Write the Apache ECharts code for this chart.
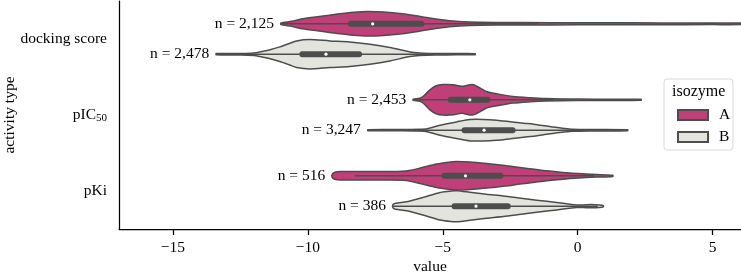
<!DOCTYPE html>
<html>
<head>
<meta charset="utf-8">
<script src="https://cdn.jsdelivr.net/npm/echarts@6/dist/echarts.min.js"></script>
<style>
  html, body { margin: 0; padding: 0; background: #fff; }
  #chart { width: 741px; height: 273px; }
</style>
</head>
<body>
<div id="chart"></div>
<script>
// 数据
var categories = ['docking score', 'pIC50', 'pKi'];
var isozymes = ['A', 'B'];
var xTicks = [-15, -10, -5, 0, 5];
var countsA = [2125, 2453, 516];
var countsB = [2478, 3247, 386];
// [whisker low, q1, median, q3, whisker high]
var boxA = [
  [-11.0, -8.5, -7.6, -5.7, -1.5],
  [-6.1, -4.8, -4.0, -3.25, -0.9],
  [-8.25, -5.03, -4.16, -2.77, 0.6]
];
var boxB = [
  [-13.4, -10.3, -9.33, -8.01, -4.6],
  [-7.2, -4.29, -3.47, -2.32, 0.6],
  [-6.85, -4.66, -3.77, -2.5, 0.74]
];
// violin outline: [value, relative density]
var profileA = [
  [[-11.0, 0.8], [-10.6, 2.5], [-10.2, 5], [-9.5, 7.5], [-8.9, 9.7], [-8.3, 11.5], [-7.8, 12.3], [-7.2, 11.8], [-6.5, 10], [-6.0, 8], [-5.5, 5.7], [-4.75, 3], [-4.0, 1.7], [-3.0, 1.3], [-1.0, 1.1], [1.0, 1.0], [3.0, 0.9], [5.0, 0.8], [6.1, 0.7]],
  [[-6.1, 0.6], [-5.85, 1.5], [-5.7, 4], [-5.5, 9.5], [-5.25, 14], [-5.0, 15.3], [-4.6, 15], [-4.3, 13.5], [-3.9, 15.3], [-3.6, 11.5], [-3.36, 8], [-3.0, 6], [-2.4, 3.3], [-1.77, 2], [-1.2, 1.2], [0.0, 0.7], [1.2, 0.6], [2.35, 0.5]],
  [[-9.1, 1.5], [-9.0, 3.5], [-8.8, 4.2], [-8.0, 4.3], [-7.0, 4.3], [-6.5, 4.5], [-6.2, 5.5], [-5.8, 8], [-5.23, 11.7], [-4.8, 13.5], [-4.49, 14.3], [-4.0, 13.8], [-3.38, 12.3], [-2.7, 10.3], [-2.14, 8.3], [-1.6, 6.5], [-1.15, 5], [-0.29, 2.7], [0.3, 1.8], [0.7, 1.3], [1.3, 0.6]]
];
var profileB = [
  [[-13.4, 0.6], [-12.5, 0.8], [-12.0, 1.3], [-11.78, 2.3], [-11.4, 4.5], [-11.04, 7.3], [-10.7, 10.5], [-10.42, 13.3], [-9.93, 14.7], [-9.19, 13.3], [-8.45, 12.3], [-7.7, 10], [-6.96, 6.7], [-6.22, 2.3], [-5.85, 1.3], [-5.3, 0.8], [-4.5, 0.6], [-3.8, 0.5]],
  [[-7.78, 0.5], [-6.5, 0.6], [-5.9, 0.9], [-5.58, 1.5], [-5.1, 5], [-4.49, 8.3], [-4.0, 10.7], [-3.5, 10.8], [-3.0, 10], [-2.5, 8.5], [-2.0, 7], [-1.5, 5.5], [-1.0, 3.5], [-0.5, 1.8], [-0.2, 1], [0.5, 0.7], [1.85, 0.5]],
  [[-6.85, 1.5], [-6.75, 3], [-6.34, 4.5], [-5.73, 8.8], [-5.1, 13.8], [-4.7, 15.3], [-4.47, 15.5], [-4.0, 14], [-3.38, 12], [-2.76, 10.3], [-2.1, 8], [-1.52, 6], [-0.78, 3.7], [-0.3, 2], [-0.04, 1.3], [0.2, 1.3], [0.5, 1.6], [0.8, 1.3], [0.95, 0.5]]
];

var FONT = '"Liberation Serif", "Times New Roman", serif';
var FS = 15.5;
var EDGE = '#4d4d4d';
var colorA = '#c13f79';
var colorB = '#e4e4de';

function violin(profiles, boxes, counts, side, fill) {
  return function (params, api) {
    var i = params.dataIndex;
    var band = api.size([0, 1])[1];
    var cy = api.coord([0, i])[1] + side * 0.2 * band;
    var k = 0.2 * band / 15.2;
    var px = function (v) { return api.coord([v, i])[0]; };
    var top = [], bot = [];
    profiles[i].forEach(function (p) {
      top.push([px(p[0]), cy - p[1] * k]);
      bot.unshift([px(p[0]), cy + p[1] * k]);
    });
    var b = boxes[i];
    return {
      type: 'group',
      children: [
        { type: 'polygon', shape: { points: top.concat(bot), smooth: 0.25 },
          style: { fill: fill, stroke: EDGE, lineWidth: 1.5 } },
        { type: 'line', shape: { x1: px(b[0]), y1: cy, x2: px(b[4]), y2: cy },
          style: { stroke: EDGE, lineWidth: 1.5 } },
        { type: 'line', shape: { x1: px(b[1]) + 2.5, y1: cy, x2: px(b[3]) - 2.5, y2: cy },
          style: { stroke: EDGE, lineWidth: 6, lineCap: 'round' } },
        { type: 'circle', shape: { cx: px(b[2]), cy: cy, r: 1.6 }, style: { fill: '#fff' } },
        { type: 'text', x: px(profiles[i][0][0]) - 7, y: cy,
          style: { text: 'n = ' + counts[i].toLocaleString('en-US'), align: 'right', verticalAlign: 'middle',
                   font: FS + 'px ' + FONT, fill: '#000' } }
      ]
    };
  };
}

var myChart = echarts.init(document.getElementById('chart'));
var option = {
  animation: false,
  textStyle: { fontFamily: FONT },
  grid: { left: 119, right: 0, top: 1, bottom: 44, containLabel: false, outerBoundsMode: 'none' },
  xAxis: {
    type: 'value',
    min: -17,
    max: 6.05,
    name: 'value',
    nameLocation: 'middle',
    nameGap: 30,
    nameMoveOverlap: false,
    nameTextStyle: { fontFamily: FONT, fontSize: FS, color: '#000' },
    axisLine: { show: true, onZero: false, lineStyle: { color: '#000', width: 1.25 } },
    axisTick: { show: true, length: 6, customValues: xTicks, lineStyle: { color: '#000', width: 1.25 } },
    axisLabel: {
      customValues: xTicks,
      fontFamily: FONT, fontSize: FS, color: '#000', margin: 11,
      formatter: function (v) { return String(v).replace('-', '\u2212'); }
    },
    splitLine: { show: false }
  },
  yAxis: {
    type: 'category',
    inverse: true,
    data: categories,
    name: 'activity type',
    nameLocation: 'middle',
    nameGap: 101,
    nameMoveOverlap: false,
    nameTextStyle: { fontFamily: FONT, fontSize: FS, color: '#000' },
    axisLine: { show: true, onZero: false, lineStyle: { color: '#000', width: 1.25 } },
    axisTick: { alignWithLabel: true, length: 6, lineStyle: { color: '#000', width: 1.25 } },
    axisLabel: {
      fontFamily: FONT, fontSize: FS, color: '#000', margin: 12,
      formatter: function (v) { return v === 'pIC50' ? 'pIC{sub|50}' : v; },
      rich: { sub: { fontFamily: FONT, fontSize: 11, color: '#000', padding: [6, 0, 0, 0] } }
    },
    splitLine: { show: false }
  },
  legend: {
    data: isozymes,
    orient: 'vertical',
    left: 672,
    top: 102,
    icon: 'rect',
    itemWidth: 30,
    itemHeight: 10,
    itemGap: 6,
    textStyle: { fontFamily: FONT, fontSize: FS, color: '#000', padding: [0, 0, 0, 6] }
  },
  graphic: [
    { type: 'rect', z: 0, shape: { x: 664, y: 79, width: 69, height: 71, r: 3 },
      style: { fill: '#fff', stroke: '#d9d9d9', lineWidth: 1 } },
    { type: 'text', z: 1, x: 672, y: 92,
      style: { text: 'isozyme', font: '16px ' + FONT, fill: '#000', verticalAlign: 'middle' } }
  ],
  series: [
    {
      name: 'A', type: 'custom', clip: true,
      itemStyle: { color: colorA, borderColor: EDGE, borderWidth: 1.2 },
      renderItem: violin(profileA, boxA, countsA, -1, colorA),
      encode: { x: 0, y: 1 },
      data: boxA.map(function (b, i) { return [b[2], i]; })
    },
    {
      name: 'B', type: 'custom', clip: true,
      itemStyle: { color: colorB, borderColor: EDGE, borderWidth: 1.2 },
      renderItem: violin(profileB, boxB, countsB, 1, colorB),
      encode: { x: 0, y: 1 },
      data: boxB.map(function (b, i) { return [b[2], i]; })
    }
  ]
};
myChart.setOption(option);
</script>
</body>
</html>
